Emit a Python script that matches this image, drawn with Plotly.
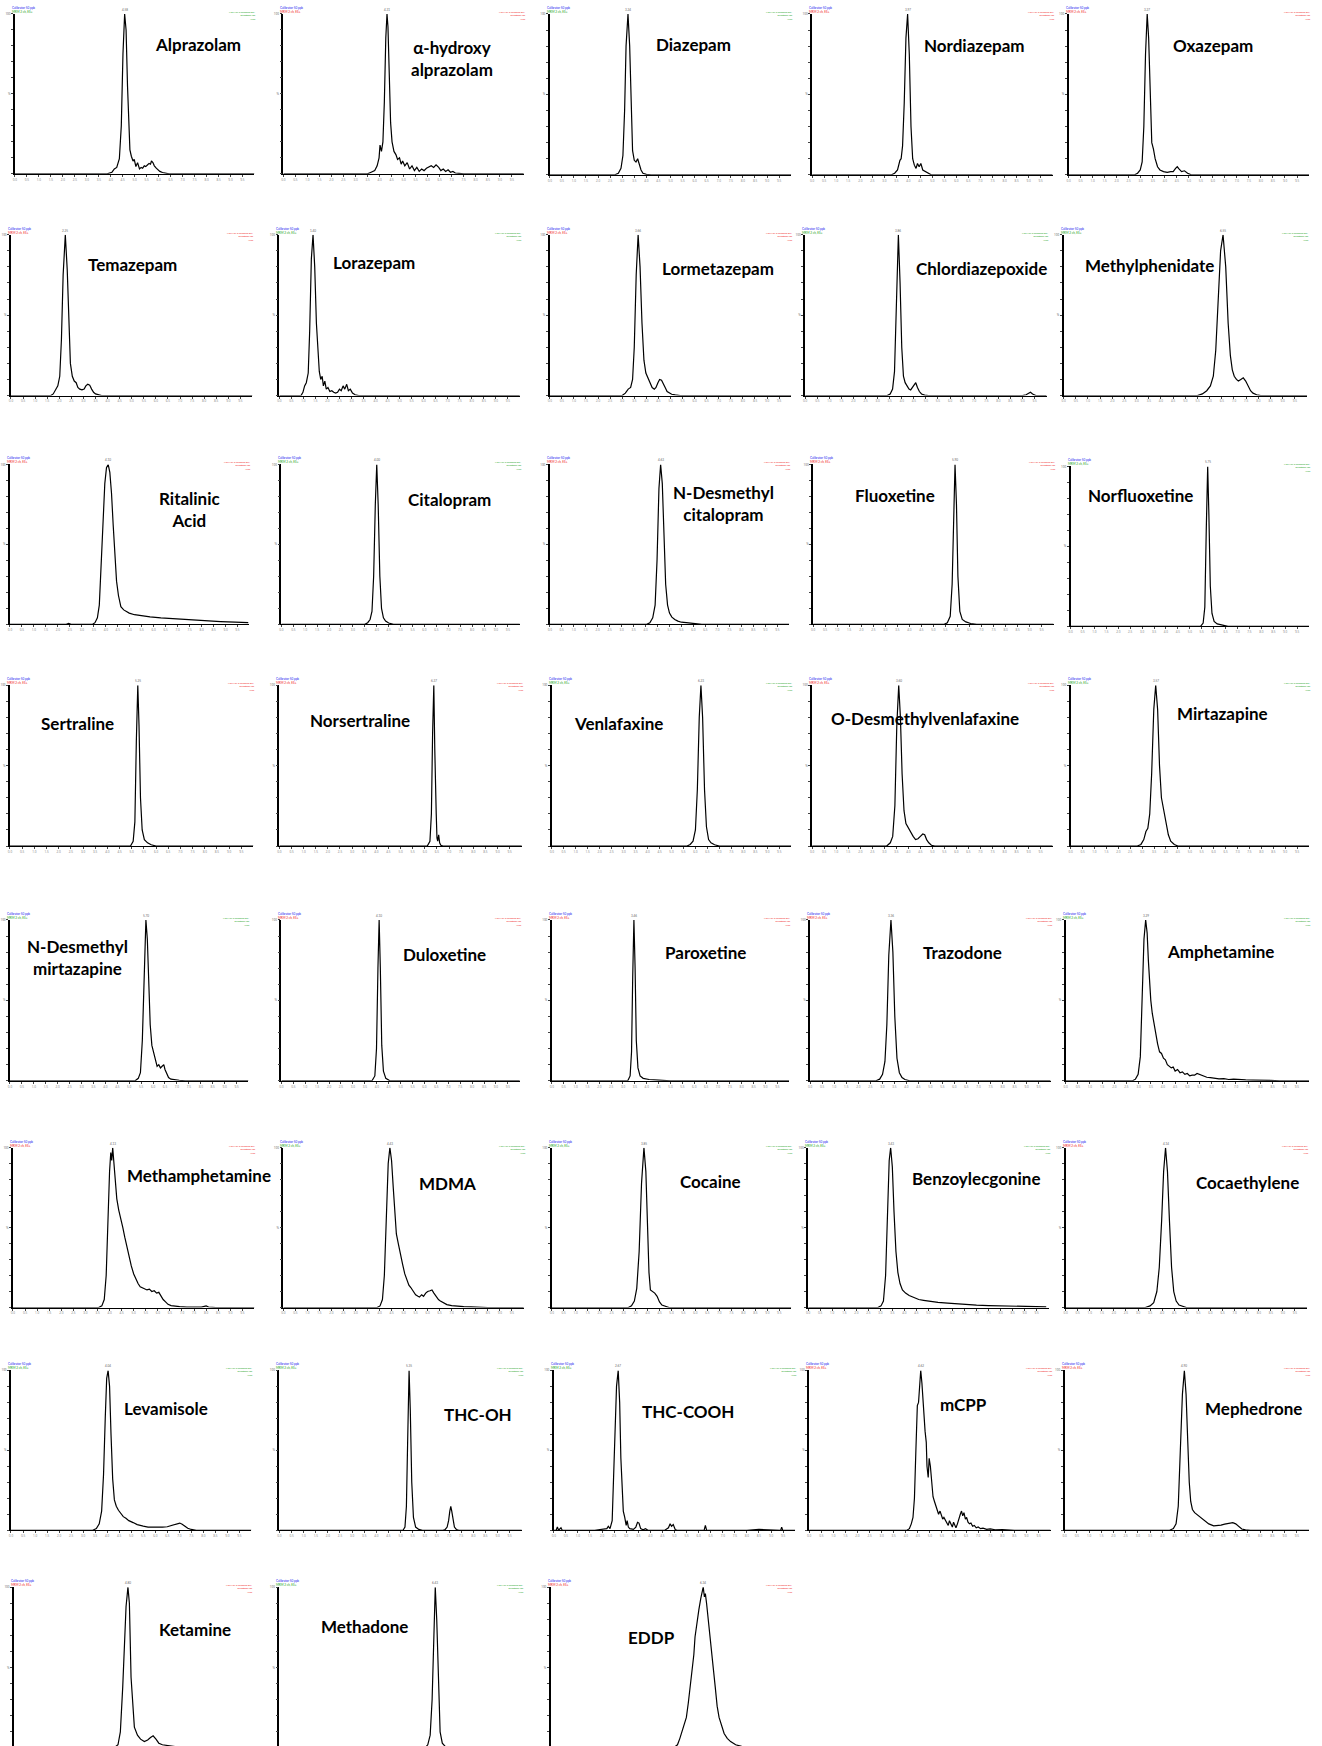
import plotly.graph_objects as go

W, H = 1322, 1746

# ---------------------------------------------------------------------------
# Extracted ion chromatograms: (position in acquisition window %, relative
# intensity %).  One list per analyte.
# ---------------------------------------------------------------------------
alprazolam = [(0, 0), (38.5, 0), (40.5, 1), (41.5, 3), (42.5, 4), (43.6, 9.5), (44.4, 30), (45.1, 75), (45.8, 100),
              (46.4, 90), (47, 55), (47.5, 30), (48, 15), (48.6, 11), (49.3, 8), (49.8, 9), (50.5, 4.5), (51.2, 7),
              (52, 3), (52.7, 4), (53.3, 3.5), (54, 5), (54.6, 4.5), (55.3, 5.5), (56, 6.5), (56.6, 6), (57, 8),
              (57.6, 7), (58.2, 5), (59, 3.5), (59.6, 2.5), (60.5, 1.5), (61.6, 0.8), (64.4, 0), (100, 0)]
hydroxy_alprazolam = [(0, 0), (35, 0), (36.5, 1), (38, 2), (39, 5), (39.8, 10), (40.2, 18), (40.8, 14), (41.4, 20),
                      (42, 45), (42.6, 85), (43.1, 100), (43.5, 92), (44, 60), (44.6, 32), (45.2, 20), (46, 14),
                      (46.8, 12), (47.5, 9), (48.3, 10), (49, 6), (49.6, 8), (50.5, 5), (51.5, 7), (52.5, 3),
                      (53.5, 5), (54.5, 2), (55.5, 4), (56.5, 1.5), (57.5, 3), (58.5, 2), (59.5, 3.5), (60.5, 4),
                      (61.5, 5), (62.5, 4), (63.5, 5.6), (64.6, 4), (65.5, 2), (66.5, 3), (67.5, 1.5), (68.5, 2.5),
                      (69.5, 1), (70.5, 1.5), (71.5, 0.5), (73, 0.3), (75, 0), (100, 0)]
diazepam = [(0, 0), (27, 0), (28.4, 1), (29.5, 4), (30.3, 12), (31, 40), (31.6, 80), (32.4, 100), (33.1, 80),
            (33.7, 40), (34.3, 15), (35, 9), (35.7, 8), (36.4, 10), (37, 7), (37.8, 3), (38.6, 1), (40, 0.3),
            (42, 0), (100, 0)]
nordiazepam = [(0, 0), (33, 0), (34.3, 1), (35.5, 3), (36.5, 9), (37, 10), (37.6, 18), (38.3, 45), (39, 85),
               (39.7, 100), (40.4, 75), (41.1, 30), (41.8, 10), (42.5, 6), (43.2, 4), (43.8, 7), (44.5, 5),
               (45.2, 7), (46, 3), (47, 2), (48, 1), (49.5, 0), (100, 0)]
oxazepam = [(0, 0), (27.5, 0), (28.7, 1), (29.8, 3), (30.6, 8), (31.3, 30), (32, 75), (32.7, 100), (33.3, 85),
            (34, 45), (34.6, 20), (35.3, 16), (36, 10), (37, 5), (38, 3), (39.5, 2), (41, 1.5), (42.5, 2),
            (43.5, 2), (44.5, 4), (45.2, 5), (46, 3.5), (47, 2), (48.2, 2.5), (49.5, 1), (51, 0), (100, 0)]
temazepam = [(0, 0), (16.5, 0), (17.5, 1), (18.6, 4), (19.4, 6), (20.2, 12), (20.9, 35), (21.6, 75), (22.5, 100),
             (23.3, 78), (24, 40), (24.6, 20), (25.4, 12), (26.2, 9), (27, 8), (27.7, 5), (28.5, 4), (29.4, 3.5),
             (30.3, 4), (31, 6), (31.8, 7), (32.6, 6.5), (33.4, 4), (34.2, 2), (35, 1), (36, 0.5), (37.5, 0),
             (100, 0)]
lorazepam = [(0, 0), (9, 0), (9.8, 2), (10.5, 6), (11.2, 8), (12, 14), (12.6, 40), (13.3, 85), (14, 100),
             (14.7, 80), (15.4, 45), (16, 25), (16.6, 15), (17.2, 10), (17.8, 12), (18.3, 6), (18.9, 9), (19.5, 4),
             (20.2, 5), (21, 2.5), (21.8, 3), (22.6, 2), (23.4, 1.5), (24.2, 2), (25, 4), (25.7, 3), (26.5, 6),
             (27.2, 4), (28, 7), (28.7, 3), (29.5, 4), (30.4, 1.5), (31.5, 0.5), (33, 0), (100, 0)]
lormetazepam = [(0, 0), (30, 0), (31.3, 1.5), (32.5, 4), (33.5, 5), (34.3, 10), (35, 30), (35.8, 75), (36.6, 100),
                (37.4, 80), (38.2, 45), (39, 22), (39.8, 14), (40.6, 11), (41.5, 8), (42.4, 5), (43.3, 4), (44, 5),
                (44.8, 8), (45.5, 10), (46.3, 9.5), (47, 7), (47.8, 5), (48.6, 2.5), (49.5, 1.5), (50.5, 0.8),
                (52, 0.4), (54, 0), (100, 0)]
chlordiazepoxide = [(0, 0), (34, 0), (35.2, 1), (36.2, 4), (37, 15), (37.8, 55), (38.6, 100), (39.3, 70),
                    (40, 30), (40.7, 12), (41.4, 8), (42.2, 6), (43, 4), (43.7, 3.5), (44.4, 5), (45.1, 7),
                    (45.8, 8), (46.5, 5), (47.3, 2.5), (48.2, 1), (49.5, 0.3), (51, 0), (90, 0), (91.5, 0.5),
                    (92.5, 1.5), (93.3, 2), (94.2, 1), (95.5, 0), (100, 0)]
methylphenidate = [(0, 0), (55, 0), (57, 1), (58.8, 3), (60.3, 6), (61.5, 12), (62.5, 28), (63.5, 60), (64.5, 90),
                   (65.5, 100), (66.6, 80), (67.6, 45), (68.5, 25), (69.3, 16), (70.1, 12), (71, 10), (71.8, 9),
                   (72.8, 10), (73.8, 11), (74.8, 9), (75.8, 6), (76.8, 3), (77.8, 1.5), (79.3, 0.5), (81, 0),
                   (100, 0)]
ritalinic_acid = [(0, 0), (23.5, 0), (24.5, 0.6), (25.5, 0), (34.5, 0), (35.5, 1), (36.5, 4), (37.3, 12),
                  (38, 35), (38.8, 65), (39.6, 88), (40.3, 98), (41, 100), (41.7, 95), (42.4, 82), (43.1, 62),
                  (43.8, 40), (44.5, 27), (45.3, 18), (46.3, 11), (47.5, 9), (49.8, 7), (52, 6), (55, 5.3),
                  (58.5, 4.7), (63, 4), (68, 3.5), (74, 2.8), (80, 2.3), (88, 1.7), (94, 1.3), (99.5, 1)]
citalopram = [(0, 0), (35, 0), (36.2, 1), (37.2, 3), (38, 8), (38.7, 30), (39.4, 75), (40, 100), (40.6, 75),
              (41.3, 30), (42, 10), (42.8, 4), (43.7, 2), (45, 0.8), (47, 0), (100, 0)]
n_desmethylcitalopram = [(0, 0), (40.5, 0), (41.8, 1), (43, 4), (44, 12), (44.8, 40), (45.6, 85), (46.3, 100),
                         (47, 88), (47.7, 55), (48.4, 25), (49.2, 12), (50, 7), (51, 4.5), (52.2, 3), (53.5, 2),
                         (55, 1.3), (57, 1), (59, 0.6), (61, 0.4), (63.5, 0), (100, 0)]
fluoxetine = [(0, 0), (54.5, 0), (55.8, 1), (57, 5), (57.8, 25), (58.4, 70), (59, 100), (59.6, 75), (60.2, 30),
              (61, 8), (62, 3), (63.5, 1.5), (65.5, 0.5), (68, 0), (100, 0)]
norfluoxetine = [(0, 0), (54.5, 0), (55.6, 2), (56.3, 12), (56.9, 60), (57.5, 100), (58, 70), (58.6, 25),
                 (59.3, 8), (60.2, 3), (61.5, 1.5), (63.5, 0.8), (66, 0), (100, 0)]
sertraline = [(0, 0), (49.5, 0), (50.6, 3), (51.3, 15), (51.9, 65), (52.5, 100), (53, 75), (53.6, 30),
              (54.3, 10), (55.2, 4), (56.5, 2), (58, 0.8), (60, 0), (100, 0)]
norsertraline = [(0, 0), (61, 0), (62.1, 3), (62.7, 20), (63.2, 70), (63.7, 100), (64.1, 60), (64.4, 28),
                 (64.7, 20), (65, 5), (65.3, 3), (65.7, 7), (66.1, 2), (66.6, 0.5), (67.5, 0), (100, 0)]
venlafaxine = [(0, 0), (56.5, 0), (57.8, 1), (59, 3), (60, 10), (60.8, 35), (61.6, 80), (62.3, 100), (63, 80),
               (63.8, 35), (64.6, 12), (65.5, 4), (66.5, 2), (68, 0.8), (70, 0), (100, 0)]
o_desmethylvenlafaxine = [(0, 0), (31, 0), (32.5, 2), (33.5, 6), (34.4, 25), (35.2, 75), (36, 100), (36.7, 80),
                          (37.4, 45), (38.2, 22), (39, 14), (40, 11), (41, 9), (42, 6), (43, 4), (44, 4.5),
                          (45, 6), (46, 7.5), (46.8, 7), (47.6, 4), (48.5, 2), (49.6, 0.5), (51, 0), (100, 0)]
mirtazapine = [(0, 0), (28, 0), (29.5, 1), (30.7, 4), (31.6, 9), (32.4, 11), (33.2, 20), (34, 45), (34.9, 85),
               (35.7, 100), (36.5, 85), (37.3, 50), (38.1, 30), (39, 22), (40, 15), (41, 7), (42, 3), (43.5, 1),
               (45, 0), (100, 0)]
n_desmethylmirtazapine = [(0, 0), (52.5, 0), (53.8, 1.5), (54.7, 5), (55.5, 25), (56.3, 70), (57, 100),
                          (57.6, 88), (58.2, 60), (58.8, 35), (59.5, 22), (60.3, 17), (61, 12), (61.7, 9),
                          (62.4, 10), (63.1, 8), (63.8, 9), (64.5, 10), (65, 7), (65.7, 4), (66.5, 2), (67.5, 1),
                          (69, 0.6), (71, 0.3), (73.5, 0), (100, 0)]
duloxetine = [(0, 0), (38, 0), (39.2, 3), (39.9, 20), (40.5, 70), (41, 100), (41.5, 70), (42.1, 22), (42.8, 6),
              (43.8, 1.5), (45.5, 0), (100, 0)]
paroxetine = [(0, 0), (32, 0), (33, 3), (33.6, 18), (34.1, 65), (34.6, 100), (35.1, 70), (35.6, 25), (36.3, 8),
              (37.2, 3), (38.5, 1.5), (41, 0.8), (45, 0.4), (50, 0), (100, 0)]
trazodone = [(0, 0), (27.4, 0), (28.9, 1), (30.1, 4), (31.1, 12), (31.9, 35), (32.7, 78), (33.6, 100), (34.4, 80),
             (35.2, 40), (36.1, 14), (37.1, 5), (38.2, 2), (39.4, 0.8), (41.4, 0), (100, 0)]
amphetamine = [(0, 0), (27.5, 0), (28.7, 1), (29.8, 4), (30.7, 15), (31.5, 50), (32.2, 88), (32.9, 100),
               (33.5, 92), (34, 75), (34.5, 62), (35, 50), (35.6, 42), (36.3, 35), (37, 28), (37.8, 23),
               (38.6, 18), (39.4, 17), (40.2, 14), (41, 13), (41.8, 10), (42.6, 9), (43.4, 8), (44.2, 8.5),
               (45, 6), (46, 7), (47, 5), (48, 5.5), (49, 4), (50, 4.5), (51, 3), (52, 3.5), (53, 3.5),
               (54, 4.5), (55, 4), (56, 3.2), (57, 3), (58, 2.2), (59.5, 2), (61, 1.5), (63, 1.2), (65, 1.3),
               (67, 0.8), (69, 1), (71.5, 0.6), (74, 0.5), (77, 0.4), (80, 0.5), (84, 0.2), (88, 0), (100, 0)]
methamphetamine = [(0, 0), (35.5, 0), (36.8, 1), (37.8, 5), (38.6, 20), (39.3, 55), (40, 85), (40.5, 97),
                   (40.9, 92), (41.3, 100), (41.8, 90), (42.4, 78), (43, 68), (43.8, 61), (44.7, 56), (45.5, 50),
                   (46.3, 44), (47.2, 38), (48, 32), (49, 26), (50, 21), (51, 17.5), (51.8, 15), (52.7, 13),
                   (53.5, 12.5), (54.5, 12), (55.5, 11), (56.5, 11.5), (57.5, 10), (58.5, 10.5), (59.5, 9),
                   (60.4, 9.5), (61.3, 7), (62.2, 5), (63.2, 3.5), (64.2, 2), (65.5, 1.2), (67, 0.8), (69, 0.5),
                   (72, 0.3), (76, 0.4), (78, 0.2), (80, 1), (81, 0.3), (84, 0), (100, 0)]
mdma = [(0, 0), (39, 0), (40.2, 1), (41.2, 5), (42, 20), (42.8, 55), (43.6, 90), (44.3, 100), (45, 92),
        (45.7, 75), (46.4, 55), (47, 46), (47.8, 40), (48.6, 33), (49.6, 27), (50.5, 21), (51.3, 17), (52.2, 14),
        (53, 12.5), (54, 10), (55, 8), (56, 7), (56.6, 6.5), (57.5, 8), (58.3, 7), (59.2, 9), (60, 10),
        (61, 10.5), (61.8, 11), (62.6, 9), (63.5, 7), (64.5, 5), (65.3, 4), (66.5, 3), (68, 1.8), (70, 1.2),
        (72, 0.8), (75, 0.6), (78, 0.4), (81, 0.3), (85, 0), (100, 0)]
cocaine = [(0, 0), (32, 0), (33.3, 1), (34.5, 4), (35.5, 12), (36.5, 35), (37.5, 78), (38.5, 100), (39.3, 85),
           (40, 50), (40.6, 22), (41.2, 11), (42, 10), (43, 9), (44, 7), (45, 3.5), (46, 1.5), (47.5, 0.5),
           (49, 0), (100, 0)]
benzoylecgonine = [(0, 0), (29, 0), (30.3, 1), (31.3, 4), (32.2, 20), (33, 60), (33.7, 92), (34.3, 100),
                   (35, 88), (35.7, 60), (36.5, 35), (37.3, 22), (38.2, 15), (39.2, 11), (40.5, 9), (42, 7.5),
                   (44, 6), (46, 5), (48, 4.5), (51, 3.8), (54, 3.2), (58, 2.7), (62, 2.2), (66, 1.8), (70, 1.5),
                   (75, 1.2), (80, 1), (85, 0.8), (90, 0.6), (95, 0.5), (99, 0.4)]
cocaethylene = [(0, 0), (33, 0), (35, 1), (36.5, 3), (37.8, 10), (38.8, 25), (39.8, 55), (40.6, 85),
                (41.4, 100), (42.2, 85), (43, 55), (43.9, 25), (44.8, 10), (45.8, 4), (47, 1.5), (48.5, 0.5),
                (50, 0), (100, 0)]
levamisole = [(0, 0), (34, 0), (35.5, 1), (36.7, 4), (37.7, 12), (38.5, 35), (39.2, 70), (39.8, 95),
              (40.4, 100), (41, 90), (41.6, 60), (42.3, 32), (43, 19), (43.8, 15), (44.7, 12.5), (45.7, 10.5),
              (46.7, 8.5), (47.8, 7.5), (49, 6), (50.8, 4.8), (52.5, 3.5), (55, 2.6), (57, 2), (59, 2),
              (61, 1.8), (63, 2), (65, 2.2), (66.5, 2.8), (68, 3.5), (69.2, 4), (70.2, 4.5), (71.2, 3.8),
              (72.3, 2.5), (73.5, 1.2), (75, 0.5), (77, 0), (100, 0)]
thc_oh = [(0, 0), (51, 0), (51.8, 2), (52.4, 15), (52.9, 55), (53.5, 100), (54, 75), (54.6, 30), (55.3, 8),
          (56.2, 2), (57.5, 0.5), (59, 0), (67.5, 0), (68.4, 0.5), (69.2, 2), (69.8, 6), (70.3, 12), (70.7, 15),
          (71.1, 12), (71.6, 6), (72.2, 2), (73, 0.5), (74, 0), (100, 0)]
thc_cooh = [(0, 0), (1, 0), (1.5, 2), (2, 0), (3, 1.5), (3.5, 0), (17, 0), (20, 0.5), (22, 1), (22.6, 2.5),
            (23.3, 1), (24.2, 6), (24.8, 30), (25.4, 56), (26, 90), (26.7, 100), (27.3, 80), (27.8, 45),
            (28.3, 25), (28.8, 12), (29.4, 8), (30, 3), (30.4, 6), (30.9, 2), (31.5, 1), (33, 0.5), (34, 2),
            (34.7, 5), (35.3, 4.5), (36, 1), (37, 0.3), (38, 1), (39, 0), (46, 0), (47.5, 1.5), (48.2, 4),
            (48.8, 2.5), (49.5, 3.5), (50.3, 0.5), (51, 0), (62.3, 0), (62.8, 3), (63.3, 0), (80, 0),
            (85, 0.5), (88, 0.2), (94, 0), (94.4, 2), (94.8, 0), (100, 0)]
mcpp = [(0, 0), (40.5, 0), (41.5, 1), (42.3, 4), (43, 8), (43.6, 20), (44.2, 50), (44.8, 78), (45.3, 80),
        (45.8, 95), (46.2, 100), (46.7, 92), (47.3, 75), (48, 62), (48.5, 55), (48.8, 40), (49.3, 33),
        (49.7, 45), (50.2, 40), (50.7, 30), (51.3, 21), (51.9, 18), (52.5, 15), (53, 13), (53.6, 10),
        (54.2, 12), (54.7, 9), (55.3, 7), (55.8, 8), (56.4, 6), (57, 5), (57.6, 3), (58.1, 6), (58.7, 4),
        (59.3, 2), (59.8, 5), (60.3, 3), (60.8, 1.5), (61.4, 4), (62, 8), (62.6, 10), (63.1, 12), (63.6, 9),
        (64.1, 11), (64.7, 7), (65.2, 8), (65.8, 5), (66.4, 4), (67, 4.5), (67.7, 2.5), (68.4, 3), (69.2, 1.5),
        (70, 2), (71, 1), (72, 1.3), (73.5, 0.6), (75, 0.8), (77, 0.3), (80, 0.4), (85, 0), (89, 0.3), (91, 0),
        (100, 0)]
mephedrone = [(0, 0), (43, 0), (44.5, 1), (45.6, 4), (46.5, 15), (47.3, 45), (48.2, 85), (49, 100), (49.7, 85),
              (50.4, 55), (51, 30), (51.6, 18), (52.3, 13), (53.2, 11), (54.4, 9.5), (55.7, 7.5), (57.6, 5.4),
              (59, 4), (61, 2.8), (62.5, 2.8), (64, 3.2), (65.5, 3.8), (67, 4.4), (68.8, 4.8), (70, 4),
              (71.2, 2.2), (72.5, 0.8), (74, 0.2), (76, 0), (100, 0)]
ketamine = [(0, 0), (42, 0), (43.8, 2), (44.8, 10), (45.8, 38), (46.6, 70), (47.2, 88), (48, 100), (48.6, 90),
            (49.3, 44), (50, 25), (50.7, 13), (52, 8), (53.3, 5.5), (54.9, 4), (56.3, 5), (57.5, 6.5),
            (58.6, 7.6), (59.8, 5.5), (61, 3), (62.5, 2), (65, 1.5), (68, 0.5), (72, 0), (100, 0)]
methadone = [(0, 0), (60, 0), (61.2, 2), (62.2, 8), (63, 30), (63.7, 75), (64.3, 100), (64.9, 80), (65.6, 35),
             (66.3, 10), (67.2, 3), (68.5, 0.8), (70, 0), (100, 0)]
eddp = [(0, 0), (49.4, 0), (51.4, 0.5), (52.7, 2), (53.7, 6), (54.8, 11), (55.6, 15), (56.4, 19), (57.2, 28),
        (57.9, 38), (58.9, 48), (59.5, 58), (60, 69), (60.7, 78), (61.6, 86), (62.4, 93), (63, 98), (63.4, 100),
        (63.9, 94), (64.3, 96), (64.8, 90), (65.4, 82), (66, 72), (66.5, 66), (67.1, 56), (67.7, 48),
        (68.4, 38), (69.2, 26), (70, 19), (70.9, 14), (72.1, 9), (73.4, 6), (74.8, 4), (76.9, 2), (79.4, 1),
        (83.4, 0.4), (87.4, 0), (100, 0)]

# Panel titles, trace and the colour of the channel header text
TITLES = ["Alprazolam", "α-hydroxy<br>alprazolam", "Diazepam", "Nordiazepam", "Oxazepam",
          "Temazepam", "Lorazepam", "Lormetazepam", "Chlordiazepoxide", "Methylphenidate",
          "Ritalinic<br>Acid", "Citalopram", "N-Desmethyl<br>citalopram", "Fluoxetine", "Norfluoxetine",
          "Sertraline", "Norsertraline", "Venlafaxine", "O-Desmethylvenlafaxine", "Mirtazapine",
          "N-Desmethyl<br>mirtazapine", "Duloxetine", "Paroxetine", "Trazodone", "Amphetamine",
          "Methamphetamine", "MDMA", "Cocaine", "Benzoylecgonine", "Cocaethylene",
          "Levamisole", "THC-OH", "THC-COOH", "mCPP", "Mephedrone",
          "Ketamine", "Methadone", "EDDP"]
TRACES = [alprazolam, hydroxy_alprazolam, diazepam, nordiazepam, oxazepam,
          temazepam, lorazepam, lormetazepam, chlordiazepoxide, methylphenidate,
          ritalinic_acid, citalopram, n_desmethylcitalopram, fluoxetine, norfluoxetine,
          sertraline, norsertraline, venlafaxine, o_desmethylvenlafaxine, mirtazapine,
          n_desmethylmirtazapine, duloxetine, paroxetine, trazodone, amphetamine,
          methamphetamine, mdma, cocaine, benzoylecgonine, cocaethylene,
          levamisole, thc_oh, thc_cooh, mcpp, mephedrone,
          ketamine, methadone, eddp]
CHANNEL = ["g", "r", "g", "r", "r",
           "r", "g", "r", "g", "g",
           "r", "g", "r", "r", "g",
           "r", "r", "g", "r", "g",
           "g", "r", "r", "r", "g",
           "r", "g", "g", "g", "r",
           "g", "g", "g", "r", "r",
           "r", "g", "r"]

# Panel frames in page pixels: axis left, axis right, top, baseline, title centre x, title centre y
FRAMES = [
    (12, 252, 12, 172, 195, 43), (281, 522, 12, 172, 450, 57), (548, 790, 12, 173, 692, 43),
    (811, 1052, 12, 173, 974, 44), (1068, 1309, 12, 173, 1213, 44),
    (8, 250, 233, 394, 130, 263), (277, 518, 233, 394, 372, 261), (548, 790, 233, 394, 717, 267),
    (804, 1046, 233, 394, 981, 267), (1063, 1307, 233, 394, 1149, 264),
    (7, 247, 463, 623, 187, 508), (279, 518, 463, 623, 448, 498), (548, 788, 463, 623, 722, 502),
    (812, 1053, 463, 623, 894, 494), (1070, 1309, 465, 625, 1140, 494),
    (7, 251, 684, 845, 75, 722), (277, 520, 684, 845, 358, 719), (550, 790, 684, 845, 617, 722),
    (811, 1052, 684, 845, 924, 717), (1070, 1309, 684, 845, 1222, 712),
    (7, 246, 919, 1080, 75, 957), (279, 518, 919, 1080, 443, 954), (550, 788, 919, 1080, 704, 952),
    (809, 1050, 919, 1080, 962, 952), (1065, 1309, 919, 1080, 1220, 951),
    (10, 252, 1147, 1307, 196, 1175), (281, 522, 1147, 1307, 446, 1183), (550, 790, 1147, 1307, 709, 1181),
    (807, 1048, 1147, 1307, 976, 1178), (1065, 1307, 1147, 1307, 1247, 1182),
    (8, 249, 1370, 1530, 163, 1408), (277, 520, 1370, 1530, 476, 1414), (552, 794, 1370, 1530, 687, 1411),
    (808, 1050, 1370, 1530, 963, 1404), (1064, 1309, 1370, 1530, 1253, 1408),
    (11, 249, 1587, 1748, 192, 1629), (277, 520, 1587, 1748, 362, 1626), (549, 790, 1587, 1748, 650, 1637),
]

COLORS = {"g": "#17a317", "r": "#f01818"}
BLUE = "#2020f0"

fig = go.Figure()
annotations = []
layout_axes = {}

for k, (title, trace, ch, frame) in enumerate(zip(TITLES, TRACES, CHANNEL, FRAMES), start=1):
    left, right, top, base, tx, ty = frame
    xs = [p[0] for p in trace]
    ys = [p[1] for p in trace]
    xa = "x" if k == 1 else f"x{k}"
    ya = "y" if k == 1 else f"y{k}"

    # baseline may fall just below the page edge on the last row
    if base > H:
        y0 = 100.0 * (base - H) / (base - top)
        ydom = [0.0, 1 - top / H]
        show_base = False
    else:
        y0 = 0.0
        ydom = [1 - base / H, 1 - top / H]
        show_base = True

    fig.add_trace(go.Scatter(x=xs, y=ys, mode="lines", xaxis=xa, yaxis=ya,
                             line=dict(color="black", width=1.2), hoverinfo="skip",
                             showlegend=False))

    layout_axes["xaxis" if k == 1 else f"xaxis{k}"] = dict(
        domain=[left / W, right / W], range=[0, 100], anchor=ya,
        showgrid=False, zeroline=False, showline=show_base, linecolor="black", linewidth=1.4,
        ticks="outside" if show_base else "", ticklen=2, tickwidth=0.7, tickcolor="#444",
        tickmode="array", tickvals=list(range(0, 100, 5)),
        ticktext=[f"{v / 10:.1f}" for v in range(0, 100, 5)],
        showticklabels=show_base, tickfont=dict(size=3, color="#777"), fixedrange=True)
    layout_axes["yaxis" if k == 1 else f"yaxis{k}"] = dict(
        domain=ydom, range=[y0, 100], anchor=xa,
        showgrid=False, zeroline=False, showline=True, linecolor="black", linewidth=1.6,
        ticks="outside", ticklen=2, tickwidth=0.7, tickcolor="#444",
        tickmode="array", tickvals=list(range(0, 101, 10)),
        ticktext=["" if v not in (50, 100) else ("100" if v == 100 else "%") for v in range(0, 101, 10)],
        tickfont=dict(size=3, color="#555"), fixedrange=True)

    # compound name
    annotations.append(dict(x=tx / W, y=1 - ty / H, xref="paper", yref="paper",
                            text=f"<b>{title}</b>", showarrow=False, xanchor="center", yanchor="middle",
                            font=dict(family="Lato", size=17, color="black")))

    # retention time flag above the apex
    apex = max(trace, key=lambda p: p[1])
    annotations.append(dict(x=apex[0], y=apex[1], xref=xa, yref=ya, text=f"{apex[0] / 10:.2f}",
                            showarrow=False, yanchor="bottom", yshift=0,
                            font=dict(family="Lato", size=3, color="#666")))

    # channel header, left and right
    annotations.append(dict(x=(left - 5) / W, y=1 - (top - 10) / H, xref="paper", yref="paper",
                            text=f"<span style='color:{BLUE}'>Calibrator 50 ppb</span><br>"
                                 f"<span style='color:{COLORS[ch]}'>MRM 2 ch, ES+</span>",
                            showarrow=False, xanchor="left", yanchor="top", align="left",
                            font=dict(family="Lato", size=3)))
    annotations.append(dict(x=(right + 4) / W, y=1 - (top - 5) / H, xref="paper", yref="paper",
                            text="MRM of 2 channels,ES+<br>quantifier ion<br>Area",
                            showarrow=False, xanchor="right", yanchor="top", align="right",
                            font=dict(family="Lato", size=2.5, color=COLORS[ch])))

fig.update_layout(width=W, height=H, margin=dict(l=0, r=0, t=0, b=0),
                  paper_bgcolor="white", plot_bgcolor="white",
                  annotations=annotations, **layout_axes)

fig.write_html("out.html")
